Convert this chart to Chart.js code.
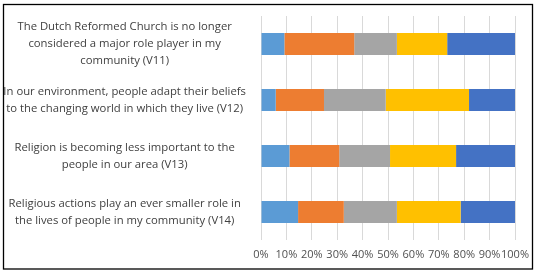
<!DOCTYPE html>
<html>
<head>
<meta charset="utf-8">
<script src="https://cdn.jsdelivr.net/npm/chart.js@4/dist/chart.umd.min.js"></script>
<style>
html,body{margin:0;padding:0;background:#fff;}
#wrap{position:relative;width:537px;height:277px;}
</style>
</head>
<body>
<div id="wrap"><canvas id="c" width="537" height="277"></canvas></div>
<script>
const categories = [
  ["The Dutch Reformed Church is no longer", "considered a major role player in my", "community (V11)"],
  ["In our environment, people adapt their beliefs", "to the changing world in which they live (V12)"],
  ["Religion is becoming less important to the", "people in our area (V13)"],
  ["Religious actions play an ever smaller role in", "the lives of people in my community (V14)"]
];
const seriesNames = ["Strongly disagree", "Disagree", "Neutral", "Agree", "Strongly agree"];
const stronglyDisagree = [9.2, 5.8, 11.2, 14.6];
const disagree         = [27.5, 19.0, 19.6, 18.0];
const neutral          = [16.8, 24.3, 20.0, 20.9];
const agree            = [19.8, 32.8, 26.0, 25.1];
const stronglyAgree    = [26.7, 18.1, 23.2, 21.4];
const xTicks = [0, 10, 20, 30, 40, 50, 60, 70, 80, 90, 100];

const colors = ["#5B9BD5", "#ED7D31", "#A5A5A5", "#FFC000", "#4472C4"];
const seriesData = [stronglyDisagree, disagree, neutral, agree, stronglyAgree];

const framePlugin = {
  id: 'frame',
  afterDraw(chart) {
    const ctx = chart.ctx;
    ctx.save();
    ctx.strokeStyle = '#000';
    ctx.lineWidth = 1.3;
    ctx.strokeRect(3.5, 4.5, 529, 264.5);
    ctx.restore();
  }
};

new Chart(document.getElementById('c'), {
  type: 'bar',
  data: {
    labels: categories,
    datasets: seriesNames.map((n, i) => ({
      label: n,
      data: seriesData[i],
      backgroundColor: colors[i],
      borderWidth: 0,
      barPercentage: 0.393,
      categoryPercentage: 1
    }))
  },
  options: {
    indexAxis: 'y',
    responsive: false,
    animation: false,
    layout: { padding: { left: 0, right: 22, top: 16, bottom: 17 } },
    plugins: { legend: { display: false }, tooltip: { enabled: false } },
    scales: {
      x: {
        stacked: true,
        min: 0, max: 100,
        afterBuildTicks(scale) { scale.ticks = xTicks.map(v => ({ value: v })); },
        afterFit(scale) { scale.height = 20; scale.paddingLeft = 0; scale.paddingRight = 0; },
        grid: { color: '#D9D9D9', lineWidth: 1, drawTicks: false },
        border: { display: false },
        ticks: {
          autoSkip: false,
          maxRotation: 0,
          minRotation: 0,
          padding: 8,
          color: '#505050',
          font: { family: 'Open Sans', size: 11 },
          callback: v => v + '%'
        }
      },
      y: {
        stacked: true,
        afterFit(scale) { scale.width = 261; scale.paddingTop = 0; scale.paddingBottom = 0; },
        grid: { display: false, drawTicks: false },
        border: { display: false },
        ticks: {
          autoSkip: false,
          crossAlign: 'center',
          padding: 15,
          color: '#404040',
          font: { family: 'Open Sans', size: 11.3, lineHeight: 1.5 }
        }
      }
    }
  },
  plugins: [framePlugin]
});
</script>
</body>
</html>
